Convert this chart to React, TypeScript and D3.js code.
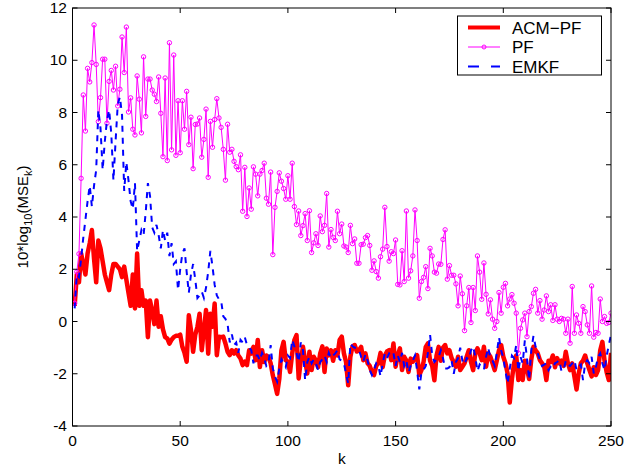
import React from "react";
import * as d3 from "d3";

// k = 1..250
const K = d3.range(1, 251);

const acmPf = [
  0.6, 1.8, 1.5, 2.6, 2.2, 1.8, 2.6, 3.0, 3.5, 2.4,
  1.5, 3.1, 2.8, 2.3, 1.8, 1.5, 1.2, 1.8, 2.2, 2.2,
  2.1, 2.0, 1.7, 2.1, 1.6, 1.1, 0.6, 1.8, 0.5, 2.6,
  0.6, 1.2, 0.6, 0.8, -0.6, 0.8, 0.4, -0.1, 0.8, -0.2,
  0.2, -0.3, -0.6, -0.65, -0.85, -0.7, -0.6, -0.55, -0.55, -0.5,
  -0.97, -1.2, -1.54, 0.24, -0.33, -1.16, -0.5, -0.2, 0.3, -1.1,
  -0.33, 0.44, -1.23, 0.3, -0.2, 0.69, -1.29, -0.58, -0.6, -0.58,
  -0.84, -1.16, -1.29, -1.1, -1.23, -1.1, -1.3, -1.42, -1.67, -1.54,
  -1.67, -1.1, -1.23, -0.97, -1.48, -0.71, -1.74, -1.1, -1.55, -1.3,
  -1.36, -1.6, -2.06, -2.4, -2.77, -2.2, -1.1, -0.78, -1.48, -1.54,
  -1.93, -1.22, -0.71, -0.52, -2.18, -1.48, -0.97, -1.5, -1.99, -1.16,
  -1.86, -1.35, -1.5, -1.75, -1.22, -0.95, -1.93, -1.03, -1.3, -1.1,
  -1.5, -1.1, -1.3, -0.71, -0.58, -1.22, -1.55, -2.44, -1.35, -0.95,
  -0.9, -1.15, -1.1, -0.97, -1.48, -1.22, -1.6, -1.7, -1.93, -2.05,
  -1.7, -1.6, -1.2, -1.75, -1.3, -1.15, -1.1, -1.48, -0.84, -1.73,
  -1.3, -1.03, -1.86, -1.35, -1.5, -1.93, -1.42, -1.54, -1.4, -1.29,
  -2.05, -1.86, -1.54, -0.97, -0.84, -1.5, -1.7, -2.25, -1.3, -0.97,
  -1.5, -1.0, -0.9, -1.22, -1.1, -1.4, -1.55, -1.73, -1.35, -1.86,
  -1.73, -1.6, -1.35, -1.1, -1.55, -1.86, -1.22, -1.03, -1.22, -1.48,
  -0.97, -1.73, -1.22, -1.35, -1.6, -1.86, -1.48, -1.1, -0.9, -1.35,
  -1.6, -1.99, -3.1, -2.2, -1.6, -1.3, -2.24, -1.86, -2.24, -1.5,
  -1.8, -2.2, -1.45, -0.97, -1.1, -1.22, -1.48, -1.6, -1.73, -2.24,
  -1.5, -1.55, -1.3, -1.75, -1.4, -1.6, -1.5, -1.7, -1.16, -1.6,
  -1.86, -1.6, -2.1, -2.6, -1.99, -1.6, -1.5, -1.3, -1.6, -1.86,
  -2.1, -1.75, -2.05, -1.86, -1.1, -0.78, -1.5, -1.95, -2.24, -1.2,
];

const pf = [
  0.7, 1.9, 2.59, 5.48, 8.67, 7.29, 9.69, 9.17, 9.91, 11.35,
  9.84, 7.65, 8.57, 10.04, 10.04, 7.59, 9.19, 9.61, 8.86, 9.77,
  8.25, 8.89, 10.89, 9.53, 11.27, 8.02, 8.56, 7.36, 7.14, 9.4,
  8.51, 7.22, 10.13, 7.85, 9.28, 9.28, 8.86, 8.7, 8.42, 9.36,
  7.97, 6.31, 9.32, 6.16, 10.67, 6.57, 10.2, 6.36, 8.45, 6.46,
  8.45, 7.36, 8.81, 6.77, 7.82, 5.85, 7.54, 7.56, 7.79, 6.29,
  6.97, 8.13, 5.52, 7.66, 6.67, 7.73, 8.53, 7.79, 7.43, 6.59,
  5.41, 7.55, 6.48, 6.59, 6.13, 5.93, 5.81, 6.38, 4.22, 5.9,
  4.02, 5.11, 4.3, 5.92, 5.64, 4.81, 5.64, 5.78, 6.06, 4.72,
  4.49, 5.72, 2.56, 4.37, 4.98, 5.69, 5.37, 5.09, 4.68, 5.58,
  4.68, 6.06, 4.4, 3.71, 4.23, 3.29, 3.67, 4.13, 3.1, 4.24,
  2.64, 3.01, 3.36, 2.91, 4.04, 3.44, 3.68, 4.9, 2.85, 3.52,
  3.22, 3.1, 4.22, 3.36, 3.73, 2.89, 2.85, 2.64, 3.68, 2.98,
  3.16, 2.23, 2.23, 2.94, 2.96, 3.21, 3.29, 2.91, 1.96, 2.32,
  1.91, 1.66, 2.48, 2.77, 4.37, 2.87, 2.31, 2.67, 2.6, 3.12,
  1.42, 1.4, 2.71, 1.53, 4.23, 1.66, 1.94, 2.51, 4.27, 3.1,
  0.89, 1.53, 1.69, 2.1, 1.26, 2.8, 2.51, 1.89, 1.85, 2.2,
  2.19, 3.14, 3.51, 1.62, 2.14, 1.77, 1.77, 1.44, 0.6, 1.74,
  1.06, -0.35, 0.6, 1.3, -0.04, 1.3, 0.42, 2.51, 1.89, 0.85,
  2.24, 1.04, 0.29, 0.83, 0.09, -0.26, 0.0, 1.11, 0.32, 1.31,
  1.46, 0.6, 0.86, 1.03, 0.7, 0.32, -1.21, -0.26, 0.06, 0.32,
  -0.58, 0.38, 0.57, 1.08, 1.23, 0.32, 0.8, 0.09, 0.44, 0.98,
  0.38, 0.64, 0.04, 0.64, 0.09, 0.0, 0.12, 0.09, -0.45, 0.09,
  -0.83, 1.34, -0.45, 0.25, -0.07, -0.45, 0.57, 0.38, -0.13, -0.45,
  1.36, -0.6, -0.42, -0.45, 0.86, 0.0, 0.19, -0.07, -0.04, 0.32,
];

const emkf = [
  0.5, 1.8, 1.7, 2.4, 3.2, 3.9, 4.6, 5.2, 4.4, 5.2,
  5.8, 8.1, 7.4, 5.8, 6.9, 7.7, 8.1, 7.2, 5.4, 6.9,
  8.3, 8.6, 7.9, 5.0, 6.1, 5.4, 4.6, 4.3, 5.3, 2.7,
  3.1, 3.5, 3.3, 4.2, 5.3, 4.8, 3.6, 3.4, 3.7, 3.3,
  2.8, 3.5, 3.1, 3.4, 2.5, 3.0, 2.2, 2.3, 1.2, 2.0,
  2.6, 2.8, 1.9, 1.1, 1.8, 2.2, 1.6, 0.9, 1.0, 1.15,
  0.9, 1.3, 1.9, 2.7, 2.1, 1.4, 1.0, 0.85, 0.8, 0.2,
  0.1, -0.1, -0.8, -0.5, -0.9, -0.8, -1.2, -0.7, -0.8, -0.6,
  -0.9, -1.0, -1.1, -1.6, -1.3, -1.3, -1.5, -1.2, -1.4, -1.7,
  -1.6, -0.9, -1.8, -2.1, -2.3, -1.8, -1.45, -1.6, -1.75, -1.3,
  -1.4, -0.7, -0.95, -1.2, -1.55, -0.8, -1.1, -2.25, -1.55, -1.35,
  -1.6, -1.45, -1.6, -1.86, -1.55, -1.45, -1.3, -1.55, -1.2, -1.4,
  -1.3, -1.22, -1.1, -1.45, -1.5, -1.6, -2.0, -2.37, -0.84, -0.95,
  -1.0, -1.0, -1.1, -1.35, -1.55, -1.25, -1.5, -1.85, -2.05, -1.85,
  -1.6, -1.7, -2.1, -1.6, -1.22, -1.4, -1.22, -1.3, -1.2, -1.7,
  -1.3, -1.55, -1.2, -1.7, -1.5, -1.95, -1.7, -1.5, -1.3, -1.9,
  -2.6, -1.95, -1.85, -1.7, -1.2, -0.5, -1.3, -1.55, -1.45, -1.35,
  -1.1, -1.4, -1.8, -1.8, -1.75, -1.5, -2.0, -1.55, -1.4, -1.0,
  -1.5, -1.65, -1.4, -1.45, -1.1, -0.95, -1.35, -1.9, -1.65, -1.75,
  -1.85, -1.35, -1.0, -1.4, -1.5, -1.7, -1.2, -0.6, -1.1, -1.4,
  -1.9, -2.37, -1.8, -1.3, -1.4, -0.9, -1.9, -1.35, -1.6, -0.72,
  -1.4, -2.24, -1.1, -0.55, -0.97, -1.22, -1.48, -1.7, -1.65, -1.6,
  -1.86, -1.73, -1.8, -1.6, -1.55, -1.48, -1.9, -1.86, -1.5, -1.65,
  -1.7, -1.6, -1.48, -1.86, -1.73, -1.65, -2.24, -1.6, -1.48, -1.6,
  -1.35, -1.99, -1.73, -1.35, -1.22, -1.6, -1.86, -1.3, -0.9, -0.5,
];

const xTicks = [0, 50, 100, 150, 200, 250];
const yTicks = [-4, -2, 0, 2, 4, 6, 8, 10, 12];
const seriesNames = ["ACM\u2212PF", "PF", "EMKF"];

const W = 627;
const H = 468;
const left = 72.5, right = 611, top = 8, bottom = 426;
const font = "'Liberation Sans', Arial, Helvetica, sans-serif";

export default function App() {
  const x = d3.scaleLinear().domain([0, 250]).range([left, right]);
  const y = d3.scaleLinear().domain([-4, 12]).range([bottom, top]);

  const line = d3.line<number>()
    .x((d, i) => x(K[i]))
    .y(d => y(d));

  const tl = 5; // tick length, inward like matlab

  return (
    <div style={{ position: "absolute", left: 0, top: 0 }}>
      <svg width={W} height={H} style={{ display: "block", background: "#fff" }}>
        <defs>
          <clipPath id="plotArea">
            <rect x={left} y={top} width={right - left} height={bottom - top} />
          </clipPath>
        </defs>
        <rect x={0} y={0} width={W} height={H} fill="#fff" />

        <g clipPath="url(#plotArea)">
          <path d={line(acmPf) || ""} fill="none" stroke="#ff0000" strokeWidth={4.5} strokeLinejoin="round" />
          <path d={line(pf) || ""} fill="none" stroke="#ff00ff" strokeWidth={1} />
          {pf.map((v, i) => (
            <circle key={i} cx={x(K[i])} cy={y(v)} r={2.2} fill="none" stroke="#ff00ff" strokeWidth={1} />
          ))}
          <path d={line(emkf) || ""} fill="none" stroke="#0000ff" strokeWidth={2} strokeDasharray="6,6" />
        </g>

        {/* ticks and frame */}
        <g stroke="#000" strokeWidth={1}>
          {xTicks.map(t => (
            <g key={"xt" + t}>
              <line x1={x(t)} x2={x(t)} y1={bottom} y2={bottom - tl} />
              <line x1={x(t)} x2={x(t)} y1={top} y2={top + tl} />
            </g>
          ))}
          {yTicks.map(t => (
            <g key={"yt" + t}>
              <line x1={left} x2={left + tl} y1={y(t)} y2={y(t)} />
              <line x1={right} x2={right - tl} y1={y(t)} y2={y(t)} />
            </g>
          ))}
          <rect x={left} y={top} width={right - left} height={bottom - top} fill="none" />
        </g>

        <g fontFamily={font} fontSize={15.5} fill="#000">
          {xTicks.map(t => (
            <text key={"xl" + t} x={x(t)} y={446} textAnchor="middle">{t}</text>
          ))}
          {yTicks.map(t => (
            <text key={"yl" + t} x={67} y={y(t) + 5} textAnchor="end">{t}</text>
          ))}
          <text x={(left + right) / 2} y={464} textAnchor="middle">k</text>
          <text transform={`translate(28,${(top + bottom) / 2}) rotate(-90)`} textAnchor="middle" fontSize={15}>
            10*log<tspan fontSize={11} dy={4}>10</tspan>
            <tspan dy={-4}>(MSE</tspan>
            <tspan fontSize={11} dy={4}>k</tspan>
            <tspan dy={-4}>)</tspan>
          </text>
        </g>

        {/* legend */}
        <g fontFamily={font} fontSize={17}>
          <rect x={457.5} y={16} width={144} height={59} fill="#fff" stroke="#000" strokeWidth={1} />
          {seriesNames.map((name, i) => {
            const ly = 27.5 + i * 19.5;
            return (
              <g key={name}>
                {i === 0 && <line x1={468} x2={500} y1={ly} y2={ly} stroke="#ff0000" strokeWidth={4} />}
                {i === 1 && (
                  <g>
                    <line x1={468} x2={500} y1={ly} y2={ly} stroke="#ff00ff" strokeWidth={1} />
                    <circle cx={484} cy={ly} r={2} fill="none" stroke="#ff00ff" />
                  </g>
                )}
                {i === 2 && <line x1={468} x2={500} y1={ly} y2={ly} stroke="#0000ff" strokeWidth={2} strokeDasharray="11,12" />}
                <text x={512} y={ly + 6} fill="#000">{name}</text>
              </g>
            );
          })}
        </g>
      </svg>
    </div>
  );
}
